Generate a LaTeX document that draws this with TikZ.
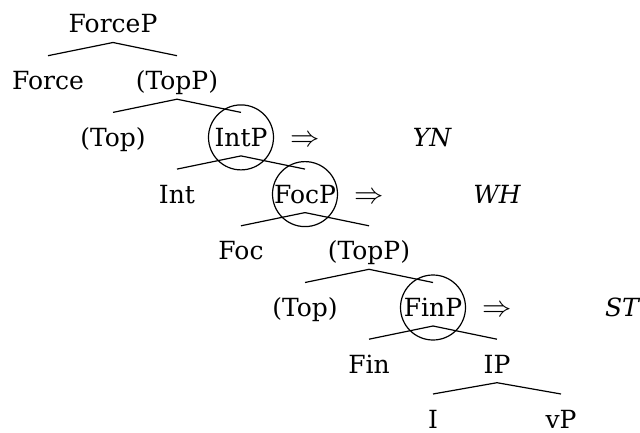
\documentclass[tikz,border=0pt]{standalone}
\usepackage{fontspec}
\setmainfont{DejaVu Serif}
\begin{document}
\begin{tikzpicture}[x=1pt,y=1pt,
  lab/.style={font=\fontsize{25}{30}\selectfont, anchor=base, inner sep=0pt, outer sep=0pt, text height=18pt, text depth=9.5pt},
  br/.style={line width=1.2pt},
  ring/.style={line width=1.2pt}]
\useasboundingbox (0,0) rectangle (640,432);
% levels (baselines)
\def\La{399}
\def\Lb{342.3}
\def\Lc{285.6}
\def\Ld{228.9}
\def\Le{172.2}
\def\Lf{115.5}
\def\Lg{58.8}
\def\Lh{4}
\newcommand{\imp}{\scalebox{1.18}{$\Rightarrow$}}
\node[lab] (forceP) at (113,\La) {ForceP};
\node[lab] (force) at (48,\Lb) {Force};
\node[lab] (topP1) at (177,\Lb) {(TopP)};
\node[lab] (top1) at (113,\Lc) {(Top)};
\node[lab] (intP) at (241,\Lc) {IntP};
\node[lab] (int) at (177,\Ld) {Int};
\node[lab] (focP) at (305,\Ld) {FocP};
\node[lab] (foc) at (241,\Le) {Foc};
\node[lab] (topP2) at (369,\Le) {(TopP)};
\node[lab] (top2) at (305,\Lf) {(Top)};
\node[lab] (finP) at (433,\Lf) {FinP};
\node[lab] (fin) at (369,\Lg) {Fin};
\node[lab] (iP) at (497,\Lg) {IP};
\node[lab, text depth=0pt] (i) at (433,\Lh) {I};
\node[lab, text depth=0pt] (vP) at (561,\Lh) {vP};
% arrows and labels
\node[lab] (ar1) at (305,\Lc) {\imp};
\node[lab] (yn) at (432,\Lc) {\itshape YN};
\node[lab] (ar2) at (369,\Ld) {\imp};
\node[lab] (wh) at (497,\Ld) {\itshape WH};
\node[lab] (ar3) at (497,\Lf) {\imp};
\node[lab] (st) at (622,\Lf) {\itshape ST};
% circles
\draw[ring] ([yshift=9pt]intP.base) circle (32.5pt);
\draw[ring] ([yshift=9pt]focP.base) circle (32.5pt);
\draw[ring] ([yshift=9pt]finP.base) circle (32.5pt);
% branches
\foreach \p/\c in {forceP/force, forceP/topP1, topP1/top1, topP1/intP, intP/int, intP/focP, focP/foc, focP/topP2, topP2/top2, topP2/finP, finP/fin, finP/iP, iP/i, iP/vP}
  \draw[br] (\p.south) -- ([yshift=16pt]\c.north);
\end{tikzpicture}
\end{document}
